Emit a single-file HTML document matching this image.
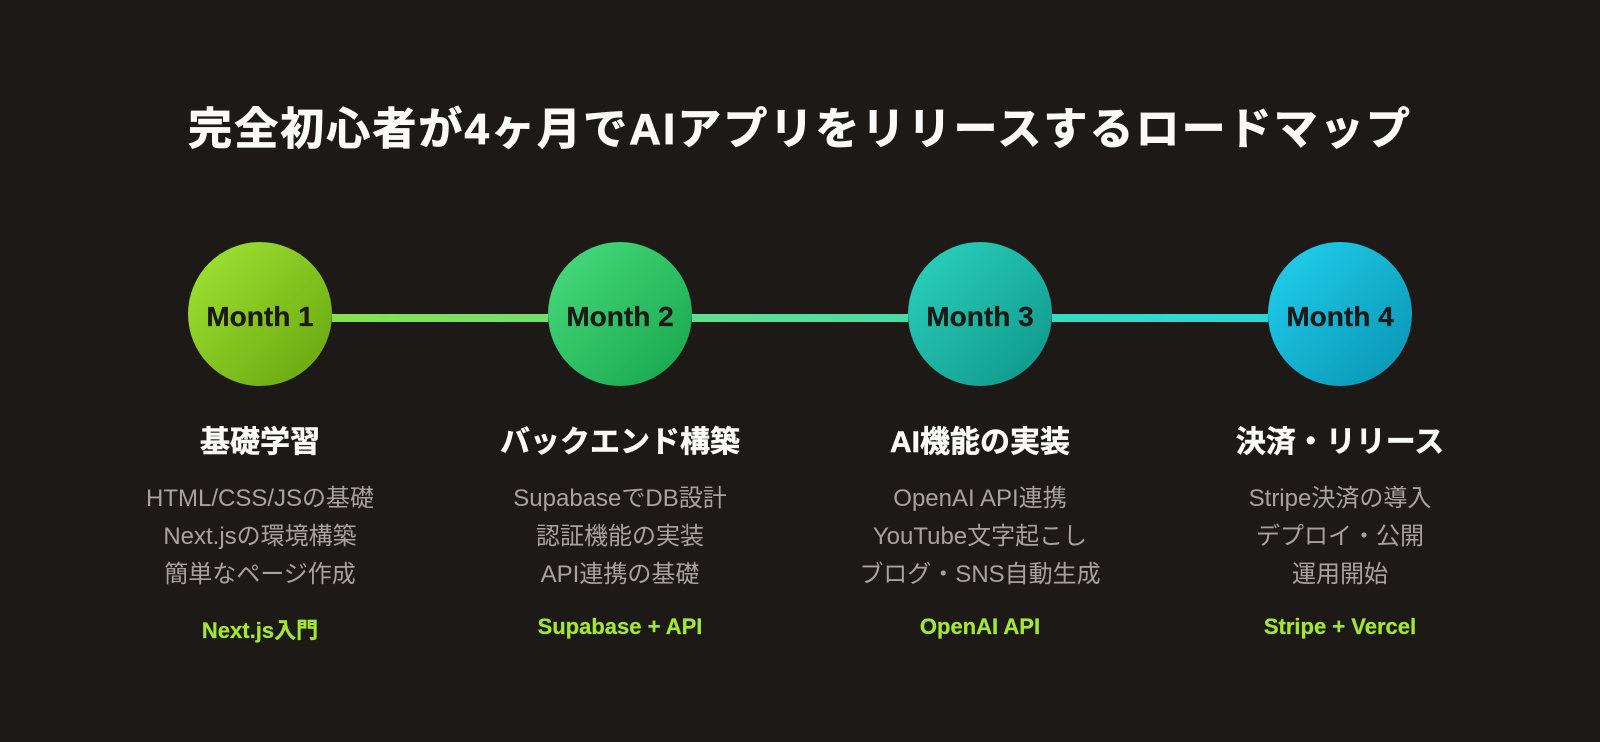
<!DOCTYPE html>
<html lang="ja"><head><meta charset="utf-8"><style>
html,body{margin:0;padding:0;background:#1c1917;width:1600px;height:742px;overflow:hidden}
svg{display:block}
text{font-family:"Liberation Sans","Noto Sans CJK JP",sans-serif;text-anchor:middle}
.t{font-size:44px;font-weight:700;fill:#fafaf9;stroke:#fafaf9;stroke-width:.8px;letter-spacing:2.05px}
.m{font-size:28px;font-weight:700;fill:#1c1917;stroke:#1c1917;stroke-width:.3px}
.h{font-size:30px;font-weight:700;fill:#fafaf9;stroke:#fafaf9;stroke-width:.5px}
.b{font-size:24px;fill:#a8a29e}
.g{font-size:22px;font-weight:700;fill:#a3e635;stroke:#a3e635;stroke-width:.25px}
</style></head><body>
<svg width="1600" height="742" viewBox="0 0 1600 742" xmlns="http://www.w3.org/2000/svg">
<defs>
<linearGradient id="c1" x1="0" y1="0" x2="1" y2="1"><stop offset="0" stop-color="#a3e635"/><stop offset="1" stop-color="#65a30d"/></linearGradient>
<linearGradient id="c2" x1="0" y1="0" x2="1" y2="1"><stop offset="0" stop-color="#4ade80"/><stop offset="1" stop-color="#16a34a"/></linearGradient>
<linearGradient id="c3" x1="0" y1="0" x2="1" y2="1"><stop offset="0" stop-color="#2dd4bf"/><stop offset="1" stop-color="#0d9488"/></linearGradient>
<linearGradient id="c4" x1="0" y1="0" x2="1" y2="1"><stop offset="0" stop-color="#22d3ee"/><stop offset="1" stop-color="#0891b2"/></linearGradient>
<linearGradient id="l1" gradientUnits="userSpaceOnUse" x1="332" y1="0" x2="548" y2="0"><stop offset="0" stop-color="#85e34b"/><stop offset="1" stop-color="#72e06c"/></linearGradient>
<linearGradient id="l2" gradientUnits="userSpaceOnUse" x1="692" y1="0" x2="908" y2="0"><stop offset="0" stop-color="#5fe08e"/><stop offset="1" stop-color="#4adba6"/></linearGradient>
<linearGradient id="l3" gradientUnits="userSpaceOnUse" x1="1052" y1="0" x2="1268" y2="0"><stop offset="0" stop-color="#37dcc0"/><stop offset="1" stop-color="#2dd6d6"/></linearGradient>
</defs>
<rect width="1600" height="742" fill="#1c1917"/>
<text class="t" x="800" y="144">完全初心者が4ヶ月でAIアプリをリリースするロードマップ</text>
<rect x="332" y="314" width="216" height="8" fill="url(#l1)"/>
<rect x="692" y="314" width="216" height="8" fill="url(#l2)"/>
<rect x="1052" y="314" width="216" height="8" fill="url(#l3)"/>
<circle cx="260" cy="314" r="72" fill="url(#c1)"/>
<circle cx="620" cy="314" r="72" fill="url(#c2)"/>
<circle cx="980" cy="314" r="72" fill="url(#c3)"/>
<circle cx="1340" cy="314" r="72" fill="url(#c4)"/>
<text class="m" x="260" y="326">Month 1</text>
<text class="m" x="620" y="326">Month 2</text>
<text class="m" x="980" y="326">Month 3</text>
<text class="m" x="1340" y="326">Month 4</text>
<text class="h" x="260" y="452">基礎学習</text>
<text class="h" x="620" y="452">バックエンド構築</text>
<text class="h" x="980" y="452">AI機能の実装</text>
<text class="h" x="1340" y="452">決済・リリース</text>
<text class="b" x="260" y="506">HTML/CSS/JSの基礎</text>
<text class="b" x="260" y="544">Next.jsの環境構築</text>
<text class="b" x="260" y="582">簡単なページ作成</text>
<text class="b" x="620" y="506">SupabaseでDB設計</text>
<text class="b" x="620" y="544">認証機能の実装</text>
<text class="b" x="620" y="582">API連携の基礎</text>
<text class="b" x="980" y="506">OpenAI API連携</text>
<text class="b" x="980" y="544">YouTube文字起こし</text>
<text class="b" x="980" y="582">ブログ・SNS自動生成</text>
<text class="b" x="1340" y="506">Stripe決済の導入</text>
<text class="b" x="1340" y="544">デプロイ・公開</text>
<text class="b" x="1340" y="582">運用開始</text>
<text class="g" x="260" y="638">Next.js入門</text>
<text class="g" x="620" y="634">Supabase + API</text>
<text class="g" x="980" y="634">OpenAI API</text>
<text class="g" x="1340" y="634">Stripe + Vercel</text>
</svg>
</body></html>
